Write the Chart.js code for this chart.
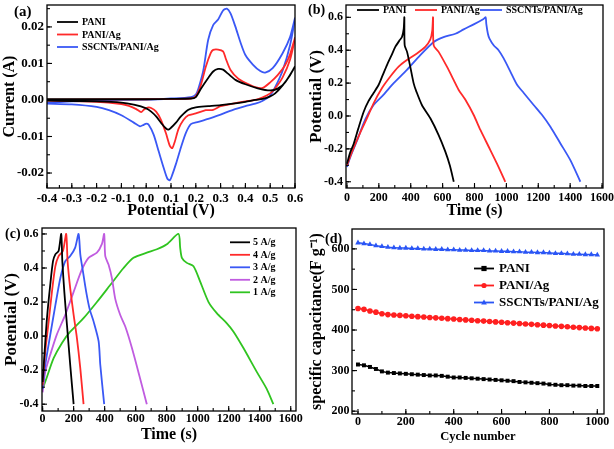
<!DOCTYPE html>
<html><head><meta charset="utf-8">
<script src="https://cdn.jsdelivr.net/npm/chart.js@4"></script>
<style>
html,body{margin:0;padding:0;background:#fff;}
#wrap{position:relative;width:614px;height:449px;overflow:hidden;background:#fff}
canvas{position:absolute;}
</style></head><body>
<div id="wrap">
<canvas id="ca" width="307" height="225" style="left:0;top:0"></canvas>
<canvas id="cb" width="307" height="225" style="left:307px;top:0"></canvas>
<canvas id="cc" width="307" height="224" style="left:0;top:225px"></canvas>
<canvas id="cd" width="307" height="224" style="left:307px;top:225px"></canvas>
</div>
<script>
// ---------- Panel (a): CV curves (potential V, current A) ----------
const cvLabels = ['PANI', 'PANI/Ag', 'SSCNTs/PANI/Ag'];
const cvPaniE = [-0.4,-0.2,0,0.1,0.18,0.2,0.22,0.25,0.27,0.29,0.31,0.33,0.36,0.4,0.45,0.5,0.53,0.56,0.6,
  0.58,0.55,0.52,0.5,0.47,0.44,0.4,0.35,0.3,0.25,0.2,0.17,0.14,0.12,0.1,0.09,0.08,0.06,0.04,0.02,0,-0.05,-0.1,-0.2,-0.4];
const cvPaniI = [0.0002,0.0002,0.0002,0.0003,0.0004,0.0008,0.003,0.006,0.0078,0.0085,0.0083,0.0072,0.0055,0.0043,0.0032,0.0026,0.0031,0.0048,0.0091,
  0.0068,0.004,0.0018,0.001,0.0003,0,-0.0005,-0.001,-0.0014,-0.0017,-0.002,-0.0027,-0.0045,-0.0062,-0.0076,-0.0081,-0.0078,-0.0063,-0.0045,-0.0032,-0.0023,-0.0013,-0.0007,-0.0004,-0.0002];
const cvAgE = [-0.4,0,0.18,0.2,0.22,0.24,0.26,0.27,0.29,0.31,0.32,0.34,0.37,0.4,0.44,0.47,0.5,0.53,0.56,0.58,0.6,
  0.58,0.55,0.52,0.5,0.47,0.44,0.4,0.35,0.3,0.27,0.24,0.2,0.17,0.15,0.13,0.115,0.105,0.095,0.08,0.06,0.04,0.02,0.005,-0.01,-0.02,-0.04,-0.07,-0.1,-0.2,-0.4];
const cvAgI = [0.0001,0.0002,0.0004,0.001,0.004,0.009,0.0128,0.0137,0.0138,0.0133,0.0115,0.0082,0.0059,0.0047,0.0035,0.0033,0.0048,0.0068,0.0095,0.0125,0.017,
  0.011,0.0062,0.0032,0.0018,0.0007,0,-0.0004,-0.001,-0.0017,-0.0027,-0.0028,-0.0037,-0.0042,-0.0055,-0.008,-0.0115,-0.0132,-0.0125,-0.0092,-0.0055,-0.0032,-0.0022,-0.0021,-0.0027,-0.0033,-0.0025,-0.0016,-0.0011,-0.0005,-0.0002];
const cvCntE = [-0.4,-0.3,-0.2,0,0.1,0.18,0.2,0.21,0.23,0.25,0.27,0.29,0.31,0.325,0.34,0.36,0.38,0.4,0.43,0.46,0.48,0.51,0.55,0.58,0.6,
  0.58,0.55,0.52,0.5,0.47,0.44,0.4,0.35,0.3,0.25,0.21,0.18,0.16,0.14,0.12,0.105,0.095,0.085,0.07,0.05,0.03,0.01,0,-0.01,-0.025,-0.05,-0.1,-0.15,-0.2,-0.3,-0.4];
const cvCntI = [-0.0008,-0.0004,-0.0001,0.0001,0.0004,0.0008,0.0015,0.003,0.008,0.0165,0.0205,0.022,0.0245,0.025,0.0237,0.02,0.0158,0.0123,0.0097,0.0079,0.0075,0.0087,0.0128,0.0172,0.0224,
  0.015,0.008,0.0035,0.0012,-0.0002,-0.001,-0.0017,-0.0027,-0.004,-0.0052,-0.006,-0.0066,-0.009,-0.013,-0.0175,-0.0205,-0.022,-0.0215,-0.0185,-0.014,-0.0095,-0.0068,-0.0065,-0.0068,-0.0072,-0.0062,-0.0042,-0.0028,-0.0019,-0.0012,-0.001];

// ---------- Panel (b): GCD of three electrodes (time s, potential V) ----------
const gcdPaniT = [0,21,42,70,105,135,167,199,225,251,280,303,330,345,356,360,362,377,397,418,435,470,523,575,617,645,670];
const gcdPaniV = [-0.29,-0.22,-0.17,-0.08,0.026,0.09,0.14,0.19,0.25,0.31,0.37,0.42,0.46,0.48,0.53,0.6,0.43,0.39,0.3,0.2,0.15,0.067,-0.014,-0.116,-0.217,-0.3,-0.4];
const gcdAgT = [0,31,84,125,167,220,272,324,376,439,491,523,535,540,544,575,627,669,700,742,795,837,889,941,993];
const gcdAgV = [-0.3,-0.22,-0.1,-0.015,0.077,0.17,0.24,0.3,0.34,0.38,0.42,0.466,0.52,0.6,0.43,0.39,0.3,0.22,0.16,0.1,0.006,-0.085,-0.187,-0.29,-0.4];
const gcdCntT = [0,21,63,115,167,230,293,376,460,544,606,680,732,795,857,870,874,884,894,920,951,983,1025,1067,1109,1171,1224,1276,1339,1402,1464];
const gcdCntV = [-0.31,-0.25,-0.15,-0.02,0.067,0.13,0.2,0.28,0.37,0.45,0.48,0.5,0.527,0.557,0.59,0.6,0.56,0.5,0.47,0.43,0.4,0.35,0.27,0.19,0.14,0.067,0.006,-0.065,-0.167,-0.27,-0.4];

// ---------- Panel (c): GCD at different current densities ----------
const rateLabels = ['5 A/g', '4 A/g', '3 A/g', '2 A/g', '1 A/g'];
const r5T = [0,13,28,49,67,82,103,120,127,140,157,178,200];
const r5V = [-0.27,-0.09,0.105,0.3,0.44,0.48,0.5,0.6,0.44,0.26,0.065,-0.17,-0.4];
const r4T = [0,17,39,60,82,103,131,152,161,178,200,221,243,264];
const r4V = [-0.29,-0.09,0.085,0.26,0.41,0.47,0.5,0.6,0.44,0.28,0.125,-0.01,-0.19,-0.4];
const r3T = [0,17,49,82,114,146,178,210,232,243,260,281,303,329,361,372,397];
const r3V = [-0.31,-0.17,0.006,0.18,0.34,0.44,0.47,0.52,0.6,0.48,0.38,0.26,0.16,0.085,-0.03,-0.17,-0.4];
const r2T = [0,17,49,92,146,200,253,296,350,382,397,404,425,447,468,500,533,576,629,672];
const r2V = [-0.33,-0.21,-0.11,0.01,0.125,0.26,0.39,0.46,0.49,0.54,0.6,0.47,0.42,0.34,0.22,0.125,0.056,-0.07,-0.25,-0.4];
const r1T = [0,28,71,125,178,264,350,436,522,586,672,737,801,876,887,898,930,973,1016,1070,1123,1188,1231,1295,1381,1445,1488];
const r1V = [-0.31,-0.24,-0.13,-0.04,0.026,0.105,0.2,0.3,0.4,0.46,0.49,0.51,0.54,0.6,0.52,0.46,0.43,0.41,0.32,0.2,0.135,0.075,0.026,-0.07,-0.21,-0.31,-0.4];

// ---------- Panel (d): cycling stability ----------
const cycles = [0,25,50,75,100,125,150,175,200,225,250,275,300,325,350,375,400,425,450,475,500,525,550,575,600,625,650,675,700,725,750,775,800,825,850,875,900,925,950,975,1000];
const capPani = [315,313,309,304,298,295,294,293,292,291,290,289,288,288,287,285,283,283,282,281,280,279,278,277,276,275,274,272,271,270,269,268,266,265,264,264,263,263,262,262,262];
const capAg = [453,451,447,444,440,438,437,436,435,434,433,432,431,430,429,428,427,426,425,424,423,422,421,420,419,418,417,416,415,414,413,412,411,410,409,408,407,406,405,404,403];
const capCnt = [615,613,611,608,606,604,603,602,602,601,601,600,600,599,599,598,598,597,597,596,596,596,595,595,594,594,593,593,592,592,591,591,590,589,589,588,587,587,586,586,585];

// ---------- tick label values ----------
const ticksA_x = [-0.4,-0.3,-0.2,-0.1,0.0,0.1,0.2,0.3,0.4,0.5,0.6];
const ticksA_y = [-0.02,-0.01,0.00,0.01,0.02];
const ticksTime = [0,200,400,600,800,1000,1200,1400,1600];
const ticksPot = [-0.4,-0.2,0.0,0.2,0.4,0.6];
const ticksCyc = [0,200,400,600,800,1000];
const ticksCap = [200,300,400,500,600];

const FONT = "'Liberation Serif','Times New Roman',serif";
const pts = (xs, ys) => xs.map((x, i) => ({x: x, y: ys[i]}));

function axis(o) {
  return {
    type: 'linear', min: o.min, max: o.max,
    grid: {display: false, drawTicks: false}, border: {display: false},
    afterBuildTicks: (s) => { s.ticks = o.vals.map(v => ({value: v})); },
    ticks: {padding: o.pad, color: '#000', autoSkip: false, maxRotation: 0,
      font: {family: FONT, weight: 'bold', size: o.size},
      callback: (v) => { if (Math.abs(v) < 1e-9) v = 0; return o.dec === undefined ? String(Math.round(v)) : v.toFixed(o.dec); }},
    title: {display: true, text: o.title, color: '#000', font: {family: FONT, weight: 'bold', size: o.tsize, lineHeight: 1}, padding: o.tpad},
    afterFit: (s) => { if (o.w !== undefined) s.width = o.w; if (o.h !== undefined) s.height = o.h;
      s.paddingLeft = 0; s.paddingRight = 0; s.paddingTop = 0; s.paddingBottom = 0; }
  };
}

const framePlugin = {
  id: 'frame',
  afterDraw(chart, args, o) {
    const {ctx, chartArea: a} = chart;
    const xs = chart.scales.x, ys = chart.scales.y;
    ctx.save();
    ctx.strokeStyle = '#000';
    ctx.lineWidth = 1.3;
    ctx.strokeRect(a.left, a.top, a.right - a.left, a.bottom - a.top);
    ctx.lineWidth = 1.1;
    const ticks = (scale, step, len, horiz) => {
      const k0 = Math.ceil(scale.min / step - 1e-6), k1 = Math.floor(scale.max / step + 1e-6);
      for (let k = k0; k <= k1; k++) {
        const p = scale.getPixelForValue(k * step);
        ctx.beginPath();
        if (horiz) { ctx.moveTo(p, a.bottom); ctx.lineTo(p, a.bottom - len); }
        else { ctx.moveTo(a.left, p); ctx.lineTo(a.left + len, p); }
        ctx.stroke();
      }
    };
    ticks(xs, o.xMinor, 3, true); ticks(xs, o.xMajor, 5, true);
    ticks(ys, o.yMinor, 3, false); ticks(ys, o.yMajor, 5, false);
    // panel label
    ctx.fillStyle = '#000';
    ctx.font = 'bold ' + o.labSize + 'px ' + FONT;
    ctx.textBaseline = 'middle'; ctx.textAlign = 'left';
    ctx.fillText(o.label, o.labX, o.labY);
    // legend
    const L = o.legend;
    ctx.font = 'bold ' + L.size + 'px ' + FONT;
    chart.data.datasets.forEach((ds, i) => {
      const x0 = L.xs ? L.xs[i] : L.x, y0 = L.ys ? L.ys[i] : L.y + i * L.dy;
      ctx.strokeStyle = ds.borderColor; ctx.lineWidth = 1.8;
      ctx.beginPath(); ctx.moveTo(x0, y0); ctx.lineTo(x0 + L.len, y0); ctx.stroke();
      if (L.marker) {
        const cx = x0 + L.len / 2, r = 2.6;
        ctx.fillStyle = ds.borderColor;
        ctx.beginPath();
        if (ds.pointStyle === 'rect') ctx.rect(cx - r, y0 - r, 2 * r, 2 * r);
        else if (ds.pointStyle === 'triangle') { ctx.moveTo(cx, y0 - r * 1.2); ctx.lineTo(cx + r * 1.1, y0 + r * 0.8); ctx.lineTo(cx - r * 1.1, y0 + r * 0.8); ctx.closePath(); }
        else ctx.arc(cx, y0, r, 0, Math.PI * 2);
        ctx.fill();
      }
      ctx.fillStyle = '#000';
      ctx.fillText(ds.label, x0 + L.len + L.gap, y0 + 0.5);
    });
    ctx.restore();
  }
};

function lineDs(label, data, color) {
  return {label, data, borderColor: color, backgroundColor: color, showLine: true, pointRadius: 0, borderWidth: 1.8, tension: 0.25, fill: false};
}

function make(id, datasets, xa, ya, pad, frame, type) {
  return new Chart(document.getElementById(id), {
    type: type || 'scatter',
    data: {datasets},
    options: {
      responsive: false, animation: false, devicePixelRatio: 1,
      layout: {padding: pad, autoPadding: false},
      scales: {x: axis(xa), y: axis(ya)},
      plugins: {legend: {display: false}, tooltip: {enabled: false}, frame},
      elements: {line: {borderJoinStyle: 'round'}}
    },
    plugins: [framePlugin]
  });
}

// (a)
make('ca', [
  lineDs(cvLabels[0], pts(cvPaniE, cvPaniI), '#000000'),
  lineDs(cvLabels[1], pts(cvAgE, cvAgI), '#ff2a2a'),
  lineDs(cvLabels[2], pts(cvCntE, cvCntI), '#3a58f5')
],
  {min: -0.4, max: 0.6, vals: ticksA_x, dec: 1, size: 13, pad: 3, title: 'Potential (V)', tsize: 16, tpad: {top: 0, bottom: 6}, h: 37},
  {min: -0.0241, max: 0.026, vals: ticksA_y, dec: 2, size: 13, pad: 3, title: 'Current (A)', tsize: 16, tpad: {top: 2, bottom: 0}, w: 47},
  {left: 0, top: 5, right: 12, bottom: 0},
  {xMajor: 0.1, xMinor: 0.05, yMajor: 0.01, yMinor: 0.005, label: '(a)', labX: 14, labY: 12, labSize: 15,
   legend: {x: 57, y: 22, dy: 12.5, len: 21, gap: 4, size: 10}});

// (b)
make('cb', [
  lineDs(cvLabels[0], pts(gcdPaniT, gcdPaniV), '#000000'),
  lineDs(cvLabels[1], pts(gcdAgT, gcdAgV), '#ff2a2a'),
  lineDs(cvLabels[2], pts(gcdCntT, gcdCntV), '#3a58f5')
],
  {min: -6, max: 1606, vals: ticksTime, size: 12, pad: 3, title: 'Time (s)', tsize: 16, tpad: {top: 0, bottom: 6}, h: 37},
  {min: -0.438, max: 0.675, vals: ticksPot, dec: 1, size: 12, pad: 3, title: 'Potential (V)', tsize: 17, tpad: {top: 1.5, bottom: 0}, w: 39},
  {left: 0, top: 5, right: 11, bottom: 0},
  {xMajor: 200, xMinor: 100, yMajor: 0.2, yMinor: 0.1, label: '(b)', labX: 1, labY: 10, labSize: 14,
   legend: {xs: [50, 108, 173], ys: [10, 10, 10], len: 22, gap: 4, size: 10}});

// (c)
make('cc', [
  lineDs(rateLabels[0], pts(r5T, r5V), '#000000'),
  lineDs(rateLabels[1], pts(r4T, r4V), '#ff2a2a'),
  lineDs(rateLabels[2], pts(r3T, r3V), '#3a58f5'),
  lineDs(rateLabels[3], pts(r2T, r2V), '#c05ce0'),
  lineDs(rateLabels[4], pts(r1T, r1V), '#30c420')
],
  {min: -4, max: 1634, vals: ticksTime, size: 12, pad: 1, title: 'Time (s)', tsize: 16, tpad: {top: 0, bottom: 6}, h: 38},
  {min: -0.44, max: 0.635, vals: ticksPot, dec: 1, size: 12, pad: 3.5, title: 'Potential (V)', tsize: 17, tpad: {top: 3, bottom: 0}, w: 42},
  {left: 0, top: 3, right: 11, bottom: 0},
  {xMajor: 200, xMinor: 100, yMajor: 0.2, yMinor: 0.1, label: '(c)', labX: 5, labY: 9, labSize: 14,
   legend: {x: 230, y: 17.3, dy: 12.5, len: 20, gap: 3, size: 10}});

// (d)
function capDs(label, vals, color, style) {
  return {label, data: pts(cycles, vals), borderColor: color, backgroundColor: color, showLine: true, pointStyle: style,
    pointRadius: style === 'triangle' ? 3.2 : 2.8, pointBorderWidth: 0, borderWidth: 1.5, tension: 0};
}
make('cd', [
  capDs(cvLabels[0], capPani, '#000000', 'rect'),
  capDs(cvLabels[1], capAg, '#ff2020', 'circle'),
  capDs(cvLabels[2], capCnt, '#2a55f5', 'triangle')
],
  {min: -25, max: 1028, vals: ticksCyc, size: 12, pad: 1, title: 'Cycle number', tsize: 12.5, tpad: {top: 0, bottom: 6}, h: 35},
  {min: 193, max: 649, vals: ticksCap, size: 12, pad: 2.5, title: 'specific capacitance(F g\u207B\u00B9)', tsize: 16, tpad: {top: 2, bottom: 0}, w: 45},
  {left: 0, top: 4, right: 10, bottom: 0},
  {xMajor: 200, xMinor: 100, yMajor: 100, yMinor: 50, label: '(d)', labX: 18, labY: 14, labSize: 14,
   legend: {x: 167, y: 43.5, dy: 17, len: 20, gap: 5, size: 13, marker: true}});
</script>
</body></html>
